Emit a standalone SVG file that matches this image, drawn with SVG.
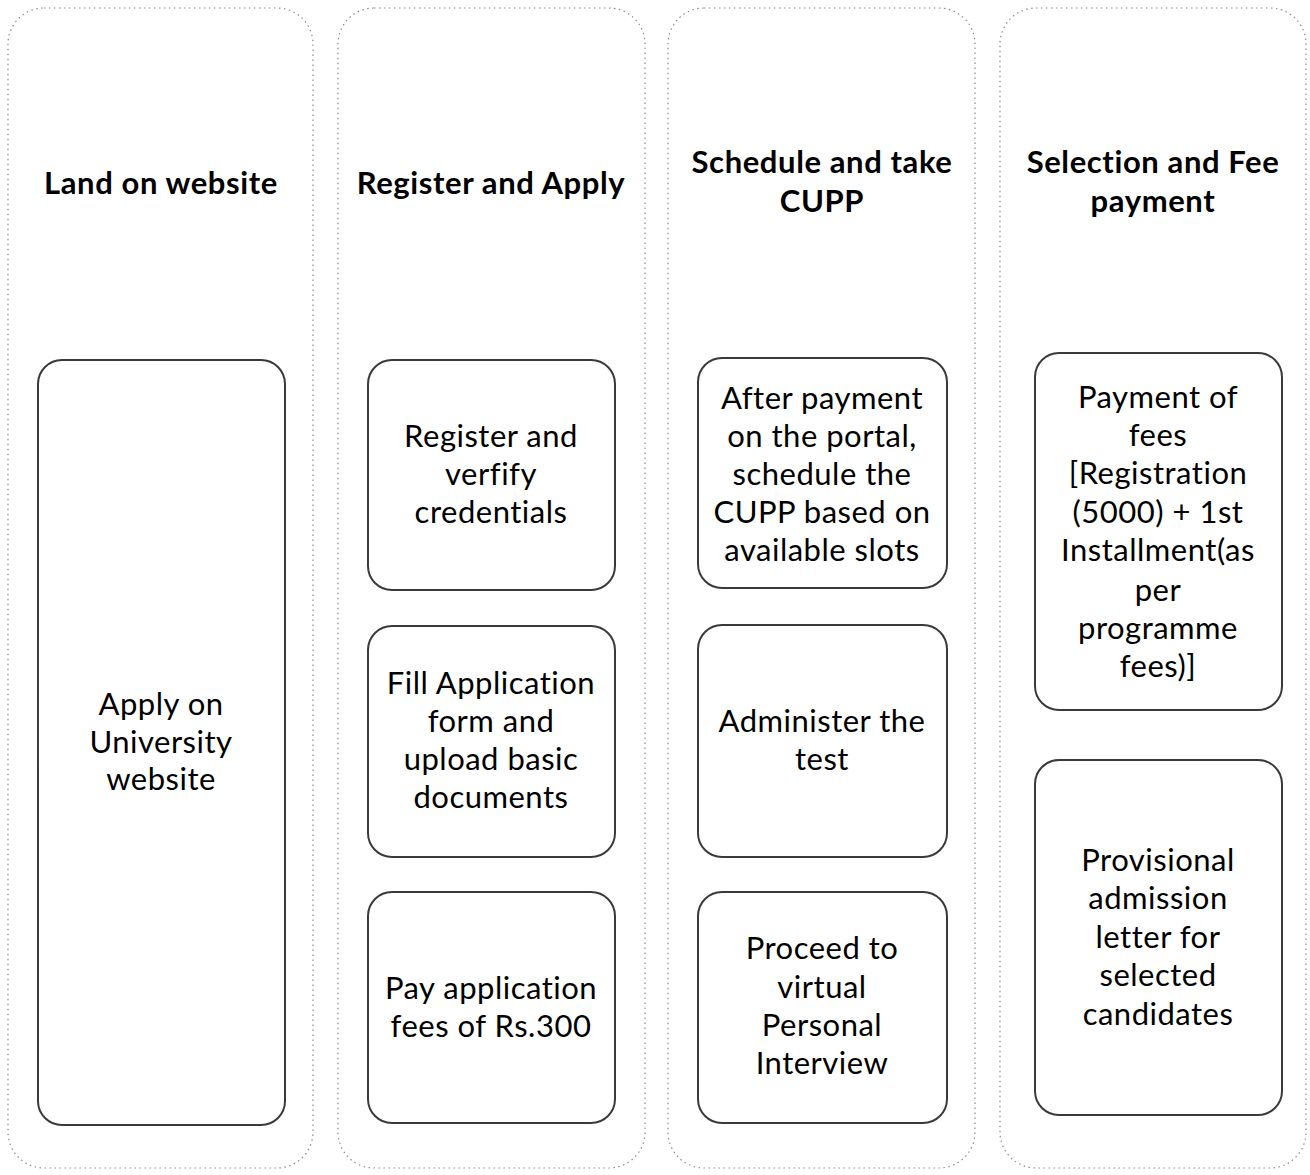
<svg xmlns="http://www.w3.org/2000/svg" width="1310" height="1175" viewBox="0 0 1310 1175">
<style>
.col{fill:none;stroke:#8c8c8c;stroke-width:1.2;stroke-dasharray:1.5 3.5}
.box{fill:#fff;stroke:#3a3a3a;stroke-width:2}
.hd{font-family:Lato,"Open Sans",sans-serif;font-weight:bold;font-size:31px;letter-spacing:0.6px;fill:#000;text-anchor:middle}
.tx{font-family:Lato,"Open Sans",sans-serif;font-size:31px;letter-spacing:0.5px;fill:#000;text-anchor:middle}
</style>
<rect width="1310" height="1175" fill="#fff"/>
<g id="lane1">
<rect class="col" x="8" y="8" width="305" height="1160" rx="36"/>
<text class="hd" x="161" y="194">Land on website</text>
</g>
<g id="lane2">
<rect class="col" x="338" y="8" width="307" height="1160" rx="36"/>
<text class="hd" x="491" y="194">Register and Apply</text>
</g>
<g id="lane3">
<rect class="col" x="668" y="8" width="307" height="1160" rx="36"/>
<text class="hd" x="822" y="173">Schedule and take</text>
<text class="hd" x="822" y="212">CUPP</text>
</g>
<g id="lane4">
<rect class="col" x="1000" y="8" width="306" height="1160" rx="36"/>
<text class="hd" x="1153" y="173">Selection and Fee</text>
<text class="hd" x="1153" y="212">payment</text>
</g>
<g id="n1">
<rect class="box" x="38" y="360" width="247" height="765" rx="24"/>
<text class="tx" x="161" y="715">Apply on</text>
<text class="tx" x="161" y="753">University</text>
<text class="tx" x="161" y="790">website</text>
</g>
<g id="n2">
<rect class="box" x="368" y="360" width="247" height="230" rx="24"/>
<text class="tx" x="491" y="447">Register and</text>
<text class="tx" x="491" y="485">verfify</text>
<text class="tx" x="491" y="523">credentials</text>
</g>
<g id="n3">
<rect class="box" x="368" y="626" width="247" height="231" rx="24"/>
<text class="tx" x="491" y="694">Fill Application</text>
<text class="tx" x="491" y="732">form and</text>
<text class="tx" x="491" y="770">upload basic</text>
<text class="tx" x="491" y="808">documents</text>
</g>
<g id="n4">
<rect class="box" x="368" y="892" width="247" height="231" rx="24"/>
<text class="tx" x="491" y="999">Pay application</text>
<text class="tx" x="491" y="1037">fees of Rs.300</text>
</g>
<g id="n5">
<rect class="box" x="698" y="358" width="249" height="230" rx="24"/>
<text class="tx" x="822" y="409">After payment</text>
<text class="tx" x="822" y="447">on the portal,</text>
<text class="tx" x="822" y="485">schedule the</text>
<text class="tx" x="822" y="523">CUPP based on</text>
<text class="tx" x="822" y="561">available slots</text>
</g>
<g id="n6">
<rect class="box" x="698" y="625" width="249" height="232" rx="24"/>
<text class="tx" x="822" y="732">Administer the</text>
<text class="tx" x="822" y="770">test</text>
</g>
<g id="n7">
<rect class="box" x="698" y="892" width="249" height="231" rx="24"/>
<text class="tx" x="822" y="959">Proceed to</text>
<text class="tx" x="822" y="998">virtual</text>
<text class="tx" x="822" y="1036">Personal</text>
<text class="tx" x="822" y="1074">Interview</text>
</g>
<g id="n8">
<rect class="box" x="1035" y="353" width="247" height="357" rx="24"/>
<text class="tx" x="1158" y="408">Payment of</text>
<text class="tx" x="1158" y="446">fees</text>
<text class="tx" x="1158" y="484">[Registration</text>
<text class="tx" x="1158" y="523">(5000) + 1st</text>
<text class="tx" x="1158" y="561">Installment(as</text>
<text class="tx" x="1158" y="601">per</text>
<text class="tx" x="1158" y="639">programme</text>
<text class="tx" x="1158" y="677">fees)]</text>
</g>
<g id="n9">
<rect class="box" x="1035" y="760" width="247" height="355" rx="24"/>
<text class="tx" x="1158" y="871">Provisional</text>
<text class="tx" x="1158" y="909">admission</text>
<text class="tx" x="1158" y="948">letter for</text>
<text class="tx" x="1158" y="986">selected</text>
<text class="tx" x="1158" y="1025">candidates</text>
</g>
<g id="connectors"></g>
</svg>
